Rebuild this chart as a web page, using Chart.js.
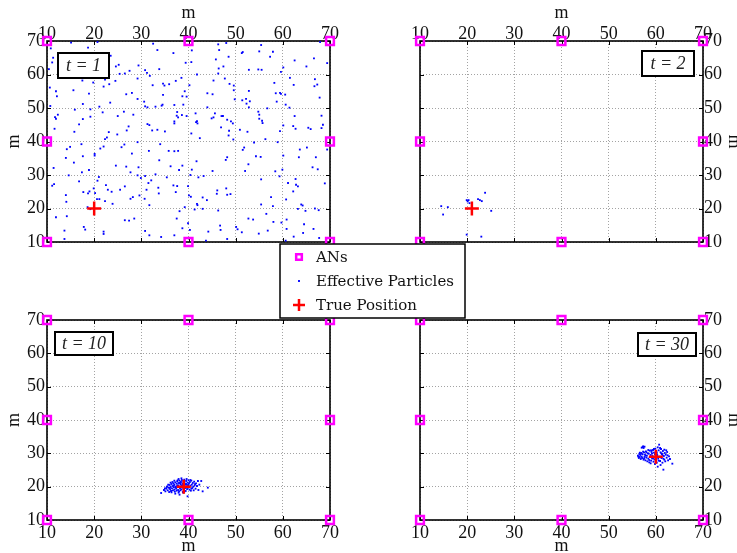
<!DOCTYPE html>
<html>
<head>
<meta charset="utf-8">
<script src="https://cdn.jsdelivr.net/npm/chart.js@4.4.1/dist/chart.umd.min.js"></script>
<style>
  html, body { margin: 0; padding: 0; background: #fff; }
  #wrap { position: relative; width: 737px; height: 553px; overflow: hidden; background: #fff; }
  #wrap canvas { position: absolute; left: 0; top: 0; }
</style>
</head>
<body>
<div id="wrap">
  <canvas id="panel-t1" width="737" height="553"></canvas>
  <canvas id="panel-t2" width="737" height="553"></canvas>
  <canvas id="panel-t10" width="737" height="553"></canvas>
  <canvas id="panel-t30" width="737" height="553"></canvas>
</div>
<script>
// anchor nodes (m), same layout in every panel
const anchorNodes = [[10, 10], [40, 10], [70, 10], [10, 40], [70, 40], [10, 70], [40, 70], [70, 70]];
const axisTicks = [10, 20, 30, 40, 50, 60, 70];
const seriesLabels = ['ANs', 'Effective Particles', 'True Position'];

// true target position per time step
const truthT1 = [20, 20];
const truthT2 = [21, 20];
const truthT10 = [39, 20];
const truthT30 = [60, 29];

// t = 1 : particles spread over the whole field
const particlesT1 = [
  [15.1, 69.5], [20.7, 69.7], [18.7, 68.0], [10.8, 67.8], [11.3, 65.0], [11.1, 63.6], [23.5, 65.6], [25.2, 62.9],
  [24.6, 62.4], [27.5, 61.1], [29.4, 62.7], [32.5, 69.2], [33.4, 67.3], [36.8, 66.4], [39.4, 63.5], [30.8, 61.3],
  [31.2, 60.5], [33.8, 61.6], [31.8, 59.6], [25.4, 60.2], [26.5, 60.3], [22.3, 58.5], [17.5, 58.2], [19.8, 57.6],
  [23.2, 57.1], [24.5, 58.1], [29.2, 58.8], [10.4, 61.6], [10.6, 56.1], [11.9, 55.0], [15.6, 55.3], [18.9, 54.3],
  [22.0, 56.4], [26.8, 54.1], [28.0, 54.5], [29.2, 52.7], [32.4, 56.8], [34.6, 57.3], [34.9, 56.7], [35.9, 57.1],
  [37.3, 58.1], [38.5, 59.0], [39.2, 55.0], [34.6, 53.9], [38.7, 53.5], [39.6, 53.4], [12.1, 53.5], [30.6, 51.9],
  [30.8, 50.5], [31.3, 50.2], [33.0, 50.4], [34.3, 50.7], [34.5, 51.0], [37.0, 50.9], [38.9, 51.0], [23.4, 51.6],
  [17.6, 51.2], [10.7, 50.6], [15.9, 49.5], [19.2, 49.6], [21.1, 50.4], [26.3, 48.9], [28.3, 48.0], [21.8, 48.7],
  [19.2, 47.4], [12.3, 48.0], [11.7, 47.3], [11.9, 46.8], [16.8, 45.1], [25.0, 47.6], [27.3, 44.5], [26.9, 43.3],
  [31.3, 45.2], [31.7, 44.9], [32.3, 43.3], [33.4, 43.5], [35.0, 43.0], [37.0, 46.0], [37.0, 45.4], [37.6, 48.8],
  [37.5, 47.7], [37.8, 47.2], [38.6, 47.9], [39.6, 47.6], [11.6, 43.8], [15.8, 42.9], [23.1, 42.8], [24.9, 42.1],
  [22.7, 41.2], [22.3, 40.7], [17.6, 46.7],
  [46.3, 69.0], [48.0, 69.4], [40.7, 67.2], [46.5, 67.3], [40.6, 63.7], [45.8, 64.5], [48.5, 65.3], [47.4, 62.4],
  [46.4, 61.8], [46.3, 60.3], [51.5, 66.7], [51.3, 66.4], [55.0, 66.9], [55.4, 68.8], [57.3, 65.3], [57.9, 66.8],
  [52.8, 61.4], [54.8, 61.5], [55.5, 61.4], [59.6, 60.8], [60.1, 62.1], [62.5, 64.2], [65.0, 62.4], [66.6, 64.8],
  [69.4, 63.4], [67.9, 69.7], [41.8, 60.0], [45.3, 58.2], [47.7, 58.8], [48.7, 57.2], [49.6, 56.7], [49.6, 55.3],
  [40.2, 56.8], [44.0, 54.4], [45.1, 54.1], [49.8, 52.6], [51.4, 52.3], [52.2, 52.7], [52.8, 55.1], [52.3, 51.3],
  [53.0, 52.0], [52.8, 50.2], [58.2, 57.5], [58.5, 54.4], [59.4, 54.5], [59.6, 54.2], [60.5, 54.0], [58.7, 51.9],
  [61.5, 59.0], [62.3, 56.9], [66.8, 58.6], [67.3, 57.0], [66.7, 56.5], [67.8, 53.1], [60.6, 51.0], [61.4, 50.1],
  [44.0, 50.2], [41.5, 48.4], [41.6, 45.8], [41.9, 45.4], [41.8, 46.1], [45.6, 48.4], [44.9, 46.9], [45.3, 47.2],
  [47.0, 47.6], [47.3, 47.6], [48.2, 46.5], [49.0, 46.0], [49.4, 45.4], [46.9, 44.2], [48.6, 43.2], [48.5, 41.8],
  [49.5, 40.6], [40.6, 42.4], [42.4, 41.0], [50.9, 43.5], [52.5, 42.9], [54.8, 48.9], [55.0, 48.0], [55.0, 46.8],
  [55.6, 46.2], [55.7, 45.5], [56.7, 49.9], [56.3, 40.7], [59.4, 43.1], [60.1, 44.8], [62.5, 47.6], [62.2, 44.6],
  [62.7, 43.8], [65.4, 44.1], [65.9, 43.7], [68.2, 47.7], [68.5, 45.0], [68.2, 44.0],
  [17.3, 39.2], [14.9, 38.4], [14.2, 37.7], [22.0, 38.5], [21.3, 37.9], [20.1, 36.3], [20.1, 35.8], [17.6, 35.6],
  [14.0, 35.1], [15.7, 33.7], [26.4, 39.1], [25.8, 38.3], [28.0, 36.4], [29.2, 39.8], [34.0, 39.2], [31.6, 37.2],
  [35.8, 37.2], [37.0, 37.1], [37.8, 37.2], [33.8, 34.4], [36.2, 32.6], [38.7, 32.8], [38.0, 31.5], [11.4, 32.1],
  [17.4, 30.8], [18.9, 31.5], [24.6, 32.8], [26.8, 32.5], [29.4, 32.3], [27.7, 30.8], [14.6, 29.9], [21.0, 29.4],
  [20.7, 28.3], [16.8, 28.1], [11.5, 27.3], [11.1, 26.8], [22.5, 27.0], [22.9, 25.6], [23.7, 25.0], [25.5, 25.6],
  [26.5, 26.6], [19.9, 26.0], [20.2, 24.6], [19.0, 25.1], [18.7, 24.5], [17.7, 24.9], [14.0, 24.0], [14.1, 22.0],
  [29.2, 29.9], [29.9, 29.1], [30.8, 29.7], [33.0, 30.2], [31.5, 27.6], [32.1, 28.4], [35.4, 29.3], [36.8, 26.9],
  [37.6, 26.7], [39.9, 26.7], [31.1, 25.6], [33.6, 26.2], [33.7, 24.5], [37.3, 24.9], [29.6, 23.9], [28.2, 23.4],
  [27.7, 22.9], [30.7, 22.9], [20.6, 22.8], [21.1, 22.8], [22.3, 22.2], [23.9, 21.4], [31.7, 21.0], [18.6, 20.4],
  [19.2, 19.8], [39.2, 20.4], [38.1, 19.2], [14.2, 17.7], [11.9, 17.4], [26.5, 16.5], [27.4, 16.4], [28.5, 17.0],
  [37.5, 17.0], [39.9, 15.6], [38.7, 14.1], [17.8, 14.5], [18.1, 13.7], [13.7, 13.4], [22.0, 13.1], [22.0, 12.4],
  [30.8, 13.3], [31.7, 12.0], [34.2, 11.5], [37.0, 12.0], [13.7, 10.9],
  [53.9, 39.7], [58.9, 39.8], [51.8, 38.2], [51.5, 37.5], [48.2, 35.3], [47.9, 34.5], [41.7, 34.1], [54.3, 35.6],
  [55.3, 35.4], [52.7, 33.2], [52.0, 31.2], [45.1, 31.2], [40.7, 31.6], [60.1, 35.8], [59.9, 31.6], [58.4, 31.1],
  [59.3, 29.6], [55.4, 28.7], [63.6, 37.6], [65.1, 38.2], [63.4, 35.3], [67.0, 35.3], [66.3, 32.3], [67.4, 31.7],
  [69.4, 37.6], [40.4, 30.0], [42.1, 29.3], [43.2, 29.7], [62.7, 28.8], [61.1, 27.6], [62.8, 27.1], [63.2, 26.6],
  [62.2, 25.1], [68.9, 27.5], [46.1, 25.4], [46.0, 24.4], [48.0, 26.0], [48.2, 24.1], [48.9, 24.3], [40.1, 23.9],
  [40.5, 23.5], [43.0, 23.3], [43.9, 22.5], [41.8, 21.4], [41.9, 21.0], [43.0, 19.9], [41.3, 19.7], [46.3, 19.4],
  [57.5, 23.4], [55.4, 21.2], [57.9, 20.7], [60.7, 22.7], [63.9, 21.2], [64.2, 20.9], [63.2, 19.9], [64.8, 19.3],
  [66.8, 20.0], [67.6, 19.5], [56.5, 18.4], [52.7, 17.0], [53.7, 16.7], [58.0, 16.0], [59.7, 15.8], [60.8, 16.7],
  [64.5, 15.3], [50.1, 14.5], [50.4, 13.8], [46.7, 14.9], [46.8, 13.6], [51.3, 12.9], [54.9, 12.5], [56.8, 13.4],
  [60.8, 13.9], [66.5, 13.9], [64.3, 12.7], [44.2, 13.1], [40.3, 13.6], [48.2, 10.9], [43.7, 10.4], [62.3, 11.6],
  [67.7, 11.2], [60.6, 10.4]
];

// t = 2 : after the first update only a few particles survive
const particlesT2 = [
  [14.5, 20.7], [14.9, 18.2], [15.9, 20.4], [19.9, 22.5], [20.3, 22.5], [20.1, 22.1], [20.5, 21.6],
  [22.3, 22.8], [22.7, 22.5], [23.1, 22.2], [23.8, 24.7], [25.1, 19.3], [19.9, 12.2], [23.0, 11.6]
];

// t = 10 : cloud around the target
const particlesT10 = [
  [34.2, 18.1], [34.8, 19.0], [35.1, 18.6], [35.3, 19.4], [35.5, 20.1], [35.6, 18.9], [35.8, 19.7], [35.9, 18.4],
  [36.0, 20.5], [36.1, 19.2], [36.2, 19.9], [36.3, 18.7], [36.4, 20.8], [36.5, 19.5], [36.6, 20.2], [36.7, 18.9],
  [36.8, 21.0], [36.9, 19.8], [37.0, 20.6], [37.0, 19.1], [37.1, 18.5], [37.2, 21.3], [37.3, 20.0], [37.4, 19.4],
  [37.5, 20.9], [37.5, 18.8], [37.6, 21.6], [37.7, 19.9], [37.8, 20.4], [37.8, 19.0], [37.9, 21.1], [38.0, 20.0],
  [38.0, 18.6], [38.1, 21.8], [38.2, 19.5], [38.3, 20.7], [38.3, 18.9], [38.4, 21.4], [38.5, 20.2], [38.5, 19.2],
  [38.6, 22.0], [38.7, 20.9], [38.8, 19.7], [38.8, 18.4], [38.9, 21.5], [39.0, 20.4], [39.0, 19.0], [39.1, 22.1],
  [39.2, 21.0], [39.3, 19.6], [39.4, 20.6], [39.4, 18.7], [39.5, 21.7], [39.6, 20.1], [39.7, 19.3], [39.8, 21.2],
  [39.8, 17.1], [39.9, 20.5], [40.0, 19.8], [40.0, 21.9], [40.1, 20.9], [40.2, 19.1], [40.3, 21.4], [40.4, 20.3],
  [40.5, 18.8], [40.6, 21.8], [40.7, 20.6], [40.8, 19.6], [40.9, 21.1], [41.0, 20.0], [41.1, 18.9], [41.2, 21.5],
  [41.3, 20.4], [41.5, 19.4], [41.6, 21.0], [41.8, 20.2], [42.0, 21.7], [42.1, 19.0], [42.3, 20.6], [42.7, 21.7],
  [43.0, 18.6], [44.1, 19.7], [36.6, 21.4], [37.2, 17.9], [38.1, 17.6], [36.0, 19.6], [35.4, 19.9], [37.6, 20.3],
  [38.4, 19.9], [39.2, 19.9], [38.9, 18.2], [37.0, 21.8], [37.9, 22.3], [38.5, 22.5], [39.6, 22.3], [40.4, 22.0],
  [36.2, 21.2], [35.0, 19.5], [37.3, 19.7], [38.7, 20.5], [35.7, 20.6], [36.9, 20.3], [37.7, 21.9], [38.2, 21.1],
  [39.1, 18.5], [40.6, 19.4], [41.4, 20.8], [36.4, 18.3], [37.9, 18.2], [39.5, 20.8]
];

// t = 30 : cloud has followed the target to the right
const particlesT30 = [
  [56.2, 29.3], [56.4, 28.6], [56.5, 29.8], [56.6, 28.9], [56.7, 29.5], [56.8, 28.3], [56.9, 30.1], [57.0, 29.0],
  [57.0, 31.7], [57.1, 28.6], [57.2, 31.9], [57.2, 29.7], [57.3, 32.1], [57.4, 28.1], [57.4, 31.6], [57.5, 30.3],
  [57.6, 32.0], [57.6, 28.9], [57.7, 29.6], [57.8, 27.9], [57.9, 30.6], [58.0, 28.7], [58.1, 29.3], [58.2, 27.6],
  [58.3, 30.0], [58.4, 28.4], [58.5, 29.9], [58.6, 27.3], [58.7, 30.8], [58.8, 28.9], [58.9, 29.5], [59.0, 27.8],
  [59.1, 30.4], [59.2, 28.5], [59.3, 29.2], [59.4, 31.0], [59.5, 27.5], [59.6, 30.2], [59.7, 28.2], [59.8, 29.7],
  [59.9, 31.4], [60.0, 28.8], [60.1, 30.6], [60.2, 27.2], [60.3, 29.5], [60.4, 31.8], [60.5, 28.4], [60.6, 30.9],
  [60.7, 32.6], [60.8, 29.0], [60.9, 27.7], [61.0, 30.3], [61.1, 31.3], [61.2, 28.6], [61.3, 29.8], [61.4, 27.2],
  [61.5, 30.7], [61.6, 25.1], [61.7, 29.2], [61.8, 28.1], [61.9, 30.1], [62.0, 27.6], [62.1, 29.6], [62.3, 28.7],
  [62.4, 30.4], [62.6, 27.9], [62.8, 29.1], [63.0, 28.3], [63.5, 26.9], [61.0, 26.5], [60.4, 26.0], [59.8, 26.8],
  [58.9, 27.0], [57.5, 28.4], [56.9, 29.9], [58.0, 30.3], [59.0, 30.9], [60.2, 30.2], [61.2, 30.0], [61.8, 31.1],
  [62.2, 30.9], [60.9, 31.6], [59.6, 31.3], [58.4, 31.0], [57.8, 29.3], [56.3, 29.0], [56.6, 30.2], [57.3, 30.5],
  [58.6, 28.0], [59.4, 28.5], [60.6, 27.8], [61.6, 28.4], [62.5, 29.4], [60.0, 29.8], [59.2, 29.9], [61.4, 29.5]
];

const CANVAS_W = 737;
const CANVAS_H = 553;
const SERIF = '"Liberation Serif", "Times New Roman", serif';
const tickFont = {family: SERIF, size: 18, lineHeight: 1};
const titleFont = {family: SERIF, size: 18};

const toPoints = arr => arr.map(([x, y]) => ({x, y}));

// box round the plot area with small inward ticks, plus the "t = n" tag
const framePlugin = {
    id: 'frame',
    beforeDatasetsDraw(chart) {
        const {ctx, chartArea: {left, right, top, bottom}, scales: {x, y}} = chart;
        ctx.save();
        ctx.strokeStyle = '#000';
        ctx.lineWidth = 1;
        ctx.beginPath();
        axisTicks.forEach(v => {
            const px = Math.round(x.getPixelForValue(v)) + 0.5;
            const py = Math.round(y.getPixelForValue(v)) + 0.5;
            ctx.moveTo(px, top); ctx.lineTo(px, top + 4);
            ctx.moveTo(px, bottom); ctx.lineTo(px, bottom - 4);
            ctx.moveTo(left, py); ctx.lineTo(left + 4, py);
            ctx.moveTo(right, py); ctx.lineTo(right - 4, py);
        });
        ctx.stroke();
        ctx.lineWidth = 1.6;
        ctx.strokeRect(left, top, right - left, bottom - top);
        ctx.restore();
    },
    afterDatasetsDraw(chart, args, opts) {
        if (!opts.tag) return;
        const {ctx, chartArea} = chart;
        const b = opts.tagBox;
        const bx = b.anchor === 'left' ? chartArea.left + b.dx : chartArea.right - b.dx - b.w;
        const by = chartArea.top + b.dy;
        ctx.save();
        ctx.fillStyle = '#fff';
        ctx.fillRect(bx, by, b.w, b.h);
        ctx.strokeStyle = '#000';
        ctx.lineWidth = 2;
        ctx.strokeRect(bx, by, b.w, b.h);
        ctx.fillStyle = '#222';
        ctx.font = 'italic 18px ' + SERIF;
        ctx.textAlign = 'center';
        ctx.textBaseline = 'middle';
        ctx.fillText(opts.tag, bx + b.w / 2, by + b.h / 2 + 1);
        ctx.restore();
    }
};

// one legend shared by the four panels, drawn on the topmost canvas
const sharedLegendPlugin = {
    id: 'sharedLegend',
    afterDraw(chart, args, opts) {
        if (!opts.box) return;
        const {ctx} = chart;
        const {x, y, w, h} = opts.box;
        const ds = chart.data.datasets;
        const rows = [ds[0], ds[2], ds[1]];
        ctx.save();
        ctx.fillStyle = '#fff';
        ctx.fillRect(x, y, w, h);
        ctx.strokeStyle = '#000';
        ctx.lineWidth = 1.5;
        ctx.strokeRect(x, y, w, h);
        rows.forEach((d, i) => {
            const cy = y + 13 + i * 24;
            const cx = x + 19;
            ctx.strokeStyle = d.borderColor;
            ctx.fillStyle = d.backgroundColor;
            ctx.lineWidth = d.borderWidth;
            const r = d.pointStyle === 'rect' && d.radius > 3 ? 4 : (d.pointStyle === 'cross' ? 6 : d.radius);
            Chart.helpers.drawPoint(ctx, {pointStyle: d.pointStyle, radius: r, borderWidth: d.borderWidth, rotation: 0}, cx, cy);
            ctx.fillStyle = '#111';
            ctx.font = '15px "DejaVu Serif", serif';
            ctx.textAlign = 'left';
            ctx.textBaseline = 'middle';
            ctx.fillText(d.label, x + 36, cy + 1);
        });
        ctx.restore();
    }
};

function buildPanel(canvasId, p) {
    const {left, top, right, bottom} = p.area;
    const xTop = p.xPos === 'top';
    const yLeft = p.yPos === 'left';
    const xAxisSize = xTop ? top : CANVAS_H - bottom;
    const yAxisSize = yLeft ? left : CANVAS_W - right;

    const axisBase = {
        type: 'linear',
        min: axisTicks[0],
        max: axisTicks[axisTicks.length - 1],
        afterBuildTicks: s => { s.ticks = axisTicks.map(v => ({value: v})); },
        grid: {color: '#a3a3a3', lineWidth: 1, drawTicks: false},
        border: {display: false, dash: [1, 2]}
    };

    return new Chart(document.getElementById(canvasId), {
        type: 'scatter',
        data: {
            datasets: [
                {
                    label: seriesLabels[0], data: toPoints(anchorNodes),
                    pointStyle: 'rect', radius: 5.5, borderWidth: 2.5,
                    borderColor: '#ff00ff', backgroundColor: 'rgba(0,0,0,0)', clip: false
                },
                {
                    label: seriesLabels[2], data: toPoints([p.truth]),
                    pointStyle: 'cross', radius: 7, borderWidth: 2.5,
                    borderColor: '#ff0000', backgroundColor: '#ff0000', clip: false
                },
                {
                    label: seriesLabels[1], data: toPoints(p.particles),
                    pointStyle: 'rect', radius: 1.3, borderWidth: 0,
                    borderColor: '#0000ff', backgroundColor: '#0000ff', clip: false
                }
            ]
        },
        options: {
            responsive: false,
            animation: false,
            devicePixelRatio: 1,
            events: [],
            layout: {
                padding: {
                    left: yLeft ? 0 : left,
                    right: yLeft ? CANVAS_W - right : 0,
                    top: xTop ? 0 : top,
                    bottom: xTop ? CANVAS_H - bottom : 0
                }
            },
            plugins: {
                legend: {display: false},
                tooltip: {enabled: false},
                frame: {tag: p.tag, tagBox: p.tagBox},
                sharedLegend: {box: p.legendBox}
            },
            scales: {
                x: {
                    ...axisBase,
                    position: p.xPos,
                    afterFit: s => { s.height = xAxisSize; },
                    ticks: {font: tickFont, color: '#111', padding: xTop ? -2 : 4, maxRotation: 0, autoSkip: false},
                    title: {display: true, text: 'm', font: titleFont, color: '#111', padding: {top: 2, bottom: -4}}
                },
                y: {
                    ...axisBase,
                    position: p.yPos,
                    afterFit: s => { s.width = yAxisSize; },
                    ticks: {font: tickFont, color: '#111', padding: yLeft ? 2 : 1, autoSkip: false},
                    title: {display: true, text: 'm', font: titleFont, color: '#111', padding: {top: yLeft ? 3 : -8, bottom: 0}}
                }
            }
        },
        plugins: [framePlugin, sharedLegendPlugin]
    });
}

buildPanel('panel-t1', {
    particles: particlesT1, truth: truthT1, tag: 't = 1',
    xPos: 'top', yPos: 'left',
    area: {left: 47, top: 41, right: 330, bottom: 242},
    tagBox: {anchor: 'left', dx: 11, dy: 12, w: 51, h: 25}
});
buildPanel('panel-t2', {
    particles: particlesT2, truth: truthT2, tag: 't = 2',
    xPos: 'top', yPos: 'right',
    area: {left: 420, top: 41, right: 703, bottom: 242},
    tagBox: {anchor: 'right', dx: 9, dy: 10, w: 52, h: 25}
});
buildPanel('panel-t10', {
    particles: particlesT10, truth: truthT10, tag: 't = 10',
    xPos: 'bottom', yPos: 'left',
    area: {left: 47, top: 320, right: 330, bottom: 520},
    tagBox: {anchor: 'left', dx: 8, dy: 12, w: 58, h: 23}
});
buildPanel('panel-t30', {
    particles: particlesT30, truth: truthT30, tag: 't = 30',
    xPos: 'bottom', yPos: 'right',
    area: {left: 420, top: 320, right: 703, bottom: 520},
    tagBox: {anchor: 'right', dx: 7, dy: 13, w: 58, h: 23},
    legendBox: {x: 280, y: 244, w: 185, h: 74}
});
</script>
</body>
</html>
